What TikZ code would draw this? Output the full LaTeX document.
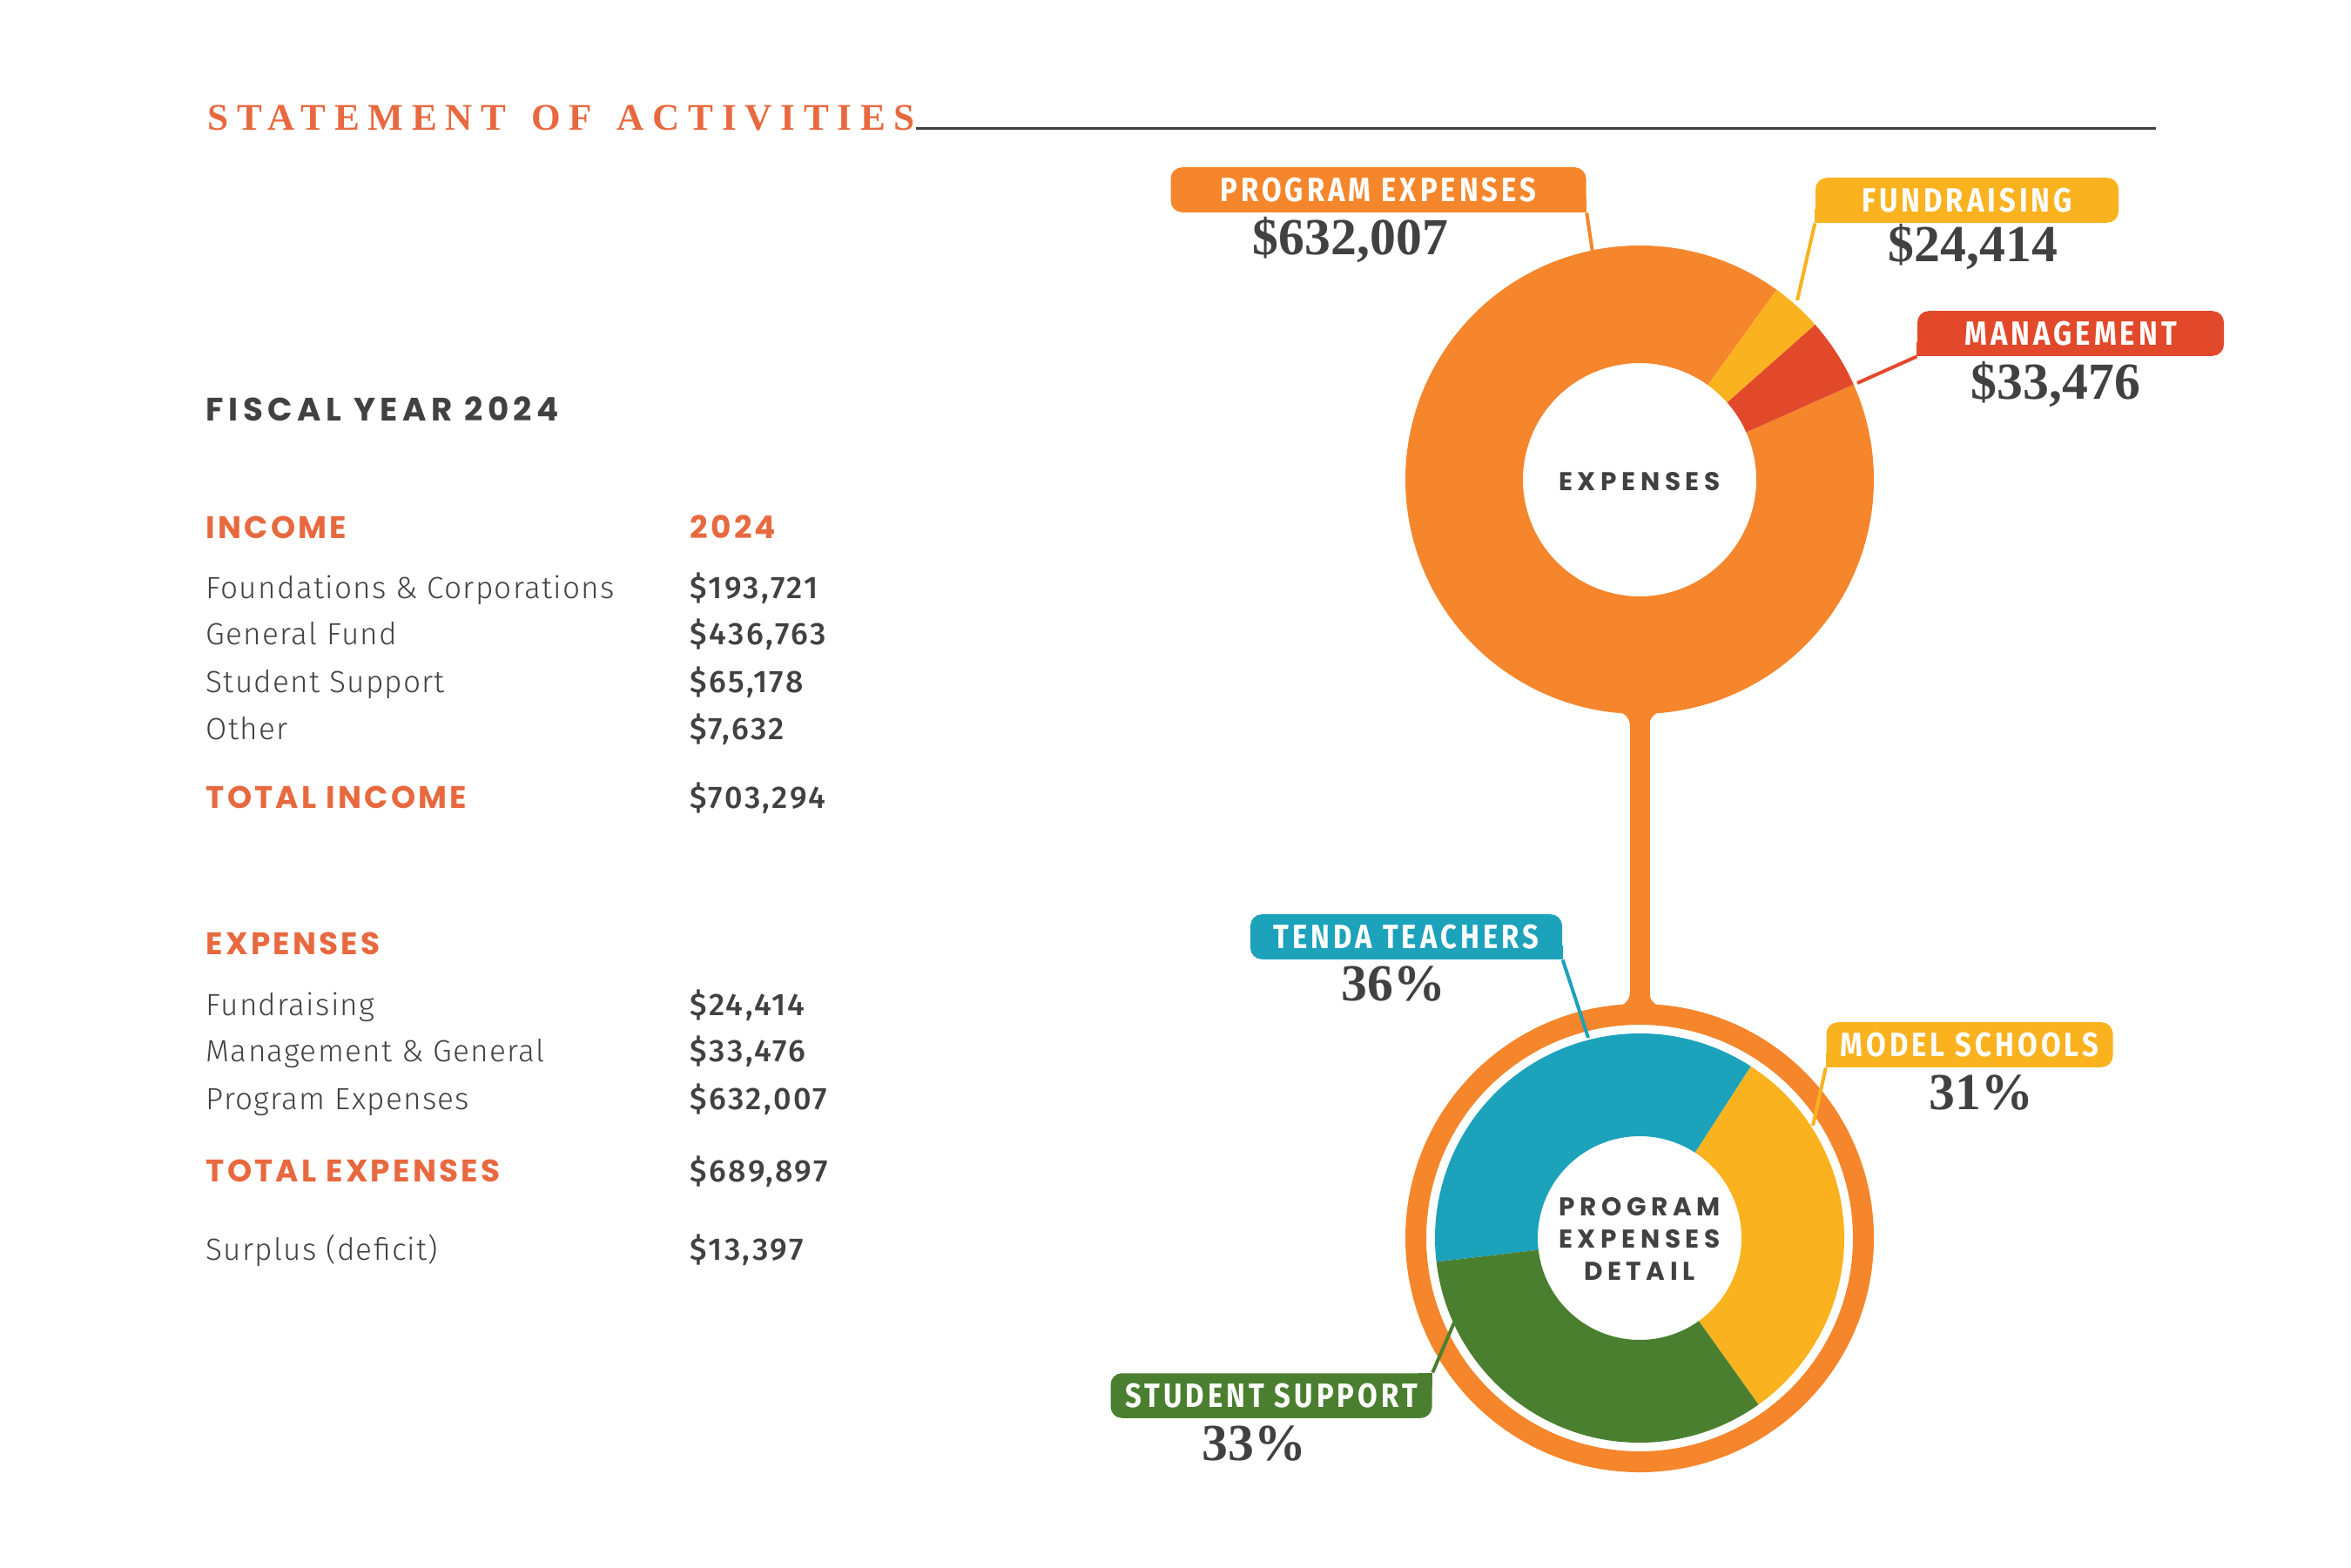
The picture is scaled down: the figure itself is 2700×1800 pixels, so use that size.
\documentclass[tikz,border=0pt]{standalone}
\usepackage{fontspec}
\usetikzlibrary{positioning}
\usetikzlibrary{calc}
\setmainfont{Fira Sans}
\newfontfamily\bodyfont[LetterSpace=3.5]{Fira Sans Light}
\newfontfamily\valfont[LetterSpace=7]{Fira Sans Medium}
\newfontfamily\headfont[LetterSpace=9]{Poppins}
\newfontfamily\hubfont[LetterSpace=19]{Poppins}
\newfontfamily\titlefont[LetterSpace=22.5,WordSpace=1.4]{Liberation Serif}
\newfontfamily\tagfont[LetterSpace=10.5,FakeStretch=0.85]{Fira Sans}
\newfontfamily\numfont{Liberation Serif}
\definecolor{orangeC}{HTML}{F5862C}
\definecolor{yellowC}{HTML}{FAB21F}
\definecolor{redC}{HTML}{E2492B}
\definecolor{tealC}{HTML}{1CA2BB}
\definecolor{greenC}{HTML}{4B7F30}
\definecolor{headC}{HTML}{E8693F}
\definecolor{grayC}{HTML}{414141}
\newcommand{\ringpart}[5]{\fill[#1] (#2:#4) arc[start angle=#2,end angle=#3,radius=#4] -- (#3:#5) arc[start angle=#3,end angle=#2,radius=#5] -- cycle;}

\begin{document}
\begin{tikzpicture}[x=0.1mm,y=-0.1mm,
  body/.style={anchor=base west,inner sep=0,text=grayC,font=\bodyfont\fontsize{10}{12}\selectfont},
  val/.style={anchor=base west,inner sep=0,text=grayC,font=\valfont\fontsize{10.2}{12}\selectfont},
  head/.style={anchor=base west,inner sep=0,text=headC,font=\headfont\bfseries\fontsize{10.2}{12}\selectfont},
  tag/.style={fill=#1,text=white,rounded corners=1.3mm,minimum height=4.8mm,inner xsep=0,font=\tagfont\bfseries\fontsize{11}{12}\selectfont},
  amount/.style={anchor=base,inner sep=0,text=grayC,font=\numfont\bfseries\fontsize{17}{19}\selectfont},
  lead/.style={draw=#1,line width=0.4mm},
  hub/.style={align=center,inner sep=0,text=grayC,font=\hubfont\bfseries\fontsize{8.4}{10.5}\selectfont}]
\useasboundingbox (0,0) rectangle (2700,1800);

% heading
\node[anchor=base west,inner sep=0,text=headC,font=\titlefont\bfseries\fontsize{12.3}{14}\selectfont] (title) at (238,150) {STATEMENT OF ACTIVITIES};
\coordinate (ruleend) at (2476,148);
\draw[grayC,line width=0.3mm] (title.base east |- ruleend) -- (ruleend);
\node[head,text=grayC,font=\headfont\bfseries\fontsize{10.6}{12}\selectfont\addfontfeature{LetterSpace=15}] (fy) at (236,483) {FISCAL YEAR 2024};

% income
\node[head] (inc) at (236,618) {INCOME};
\node[head] (yr) at (792,618) {2024};
\foreach \n/\y/\t/\v in {1/687/Foundations \& Corporations/\$193{,}721,2/740/General Fund/\$436{,}763,3/795/Student Support/\$65{,}178,4/849/Other/\$7{,}632} {
\node[body] (i\n) at (236,\y) {\t};
\node[val] (iv\n) at (792,\y) {\v};}
\node[head] (totinc) at (236,928) {TOTAL INCOME};
\node[val] (totincv) at (792,928) {\$703,294};

% expenses
\node[head] (exp) at (236,1096) {EXPENSES};
\foreach \n/\y/\t/\v in {1/1166/Fundraising/\$24{,}414,2/1219/Management \& General/\$33{,}476,3/1274/Program Expenses/\$632{,}007} {
\node[body] (e\n) at (236,\y) {\t};
\node[val] (ev\n) at (792,\y) {\v};}
\node[head] (totexp) at (236,1357) {TOTAL EXPENSES};
\node[val] (totexpv) at (792,1357) {\$689,897};
\node[body] (sur) at (236,1447) {Surplus (deficit)};
\node[val] (surv) at (792,1447) {\$13,397};

% expenses donut
\begin{scope}[shift={(1883,551)},yscale=-1]
\ringpart{orangeC}{54.2}{384}{269}{134}
\ringpart{redC}{24}{41.5}{269}{134}
\ringpart{yellowC}{41.5}{54.2}{269}{134}
\end{scope}

% stem with flared ends
\coordinate (s1) at (1883,812);
\coordinate (s2) at (1883,1160);
\draw[orangeC,line width=2.3mm] (s1) -- (s2);
\fill[orangeC] (1856,815) .. controls (1869,821) and (1872,826) .. (1872,836) -- (1894,836) .. controls (1894,826) and (1897,821) .. (1910,815) -- cycle;
\fill[orangeC] (1856,1159) .. controls (1869,1152) and (1872,1147) .. (1872,1138) -- (1894,1138) .. controls (1894,1147) and (1897,1152) .. (1910,1159) -- cycle;

% program detail donut
\begin{scope}[shift={(1883,1422)},yscale=-1]
\draw[orangeC,line width=2.4mm] (0,0) circle[radius=257];
\ringpart{yellowC}{-54.5}{57.1}{235}{117}
\ringpart{tealC}{57.1}{186.7}{235}{117}
\ringpart{greenC}{186.7}{305.5}{235}{117}
\end{scope}

\node[hub] (hubtop) at (1883,553) {EXPENSES};
\node[hub] (hubbot) at (1883,1423) {PROGRAM\\EXPENSES\\DETAIL};

% tags and leaders
\node[tag=orangeC,minimum width=47.7mm] (tpe) at (1583,218) {PROGRAM EXPENSES};
\fill[orangeC] ($(tpe.south east)+(-16,-16)$) rectangle (tpe.south east);
\coordinate (epe) at (1829,290);
\draw[lead=orangeC] (tpe.south east) -- (epe);

\node[tag=yellowC,minimum width=34.8mm] (tfr) at (2259,230) {FUNDRAISING};
\fill[yellowC] (tfr.south west) rectangle ($(tfr.south west)+(16,-16)$);
\coordinate (efr) at (2064,345);
\draw[lead=yellowC] (tfr.south west) -- (efr);

\node[tag=redC,minimum width=35.2mm] (tmg) at (2378,383) {MANAGEMENT};
\fill[redC] (tmg.south west) rectangle ($(tmg.south west)+(16,-16)$);
\coordinate (emg) at (2133,440);
\draw[lead=redC] (tmg.south west) -- (emg);

\node[tag=tealC,minimum width=35.8mm,minimum height=4.5mm] (ttt) at (1615,1076) {TENDA TEACHERS};
\fill[tealC] ($(ttt.south east)+(-16,-16)$) rectangle (ttt.south east);
\coordinate (ett) at (1824,1192);
\draw[lead=tealC] (ttt.south east) -- (ett);

\node[tag=yellowC,minimum width=32.9mm,minimum height=4.5mm] (tms) at (2262,1200) {MODEL SCHOOLS};
\fill[yellowC] (tms.south west) rectangle ($(tms.south west)+(16,-16)$);
\coordinate (ems) at (2082,1293);
\draw[lead=yellowC] (tms.south west) -- (ems);

\node[tag=greenC,minimum width=36.9mm,minimum height=4.5mm] (tss) at (1460,1603) {STUDENT SUPPORT};
\fill[greenC] ($(tss.north east)+(-16,16)$) rectangle (tss.north east);
\coordinate (ess) at (1670,1519);
\draw[lead=greenC] (tss.north east) -- (ess);

% amounts
\node[amount] (ape) at (1551,293) {\$632,007};
\node[amount] (afr) at (2266,301) {\$24,414};
\node[amount] (amg) at (2361,458) {\$33,476};
\node[amount] (att) at (1600,1149) {36\%};
\node[amount] (ams) at (2275,1274) {31\%};
\node[amount] (ass) at (1440,1677) {33\%};
\end{tikzpicture}
\end{document}
